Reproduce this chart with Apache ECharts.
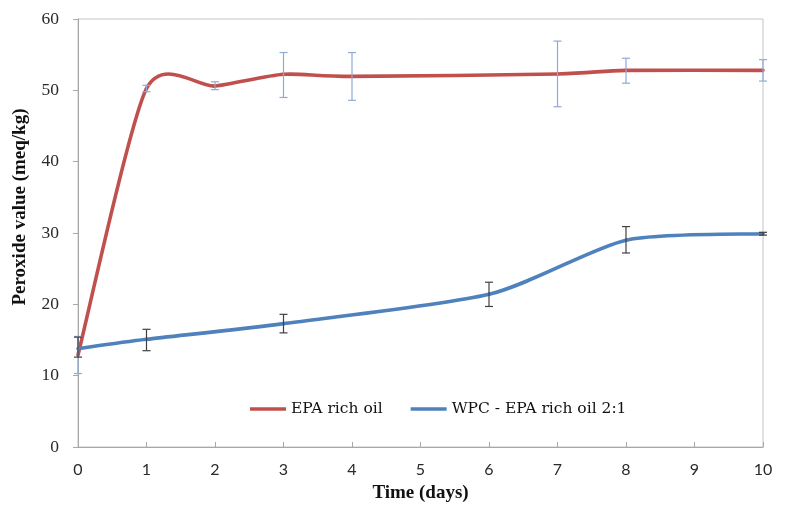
<!DOCTYPE html>
<html>
<head>
<meta charset="utf-8">
<script src="https://cdn.jsdelivr.net/npm/echarts@6/dist/echarts.min.js"></script>
<style>
html,body{margin:0;padding:0;background:#fff;}
#chart{width:786px;height:514px;}
</style>
</head>
<body>
<div id="chart"></div>
<script>
// ---- data ----
const epaName = 'EPA rich oil';
const epaDays = [0, 1, 2, 3, 4, 7, 8, 10];
const epaPV   = [12.9, 50.25, 50.6, 52.25, 51.95, 52.3, 52.8, 52.8];
const epaLow  = [10.3, 49.8, 50.1, 49.0, 48.6, 47.7, 51.0, 51.3];
const epaHigh = [15.5, 50.7, 51.2, 55.3, 55.3, 56.9, 54.5, 54.3];

const wpcName = 'WPC - EPA rich oil 2:1';
const wpcDays = [0, 1, 3, 6, 8, 10];
const wpcPV   = [13.8, 15.1, 17.3, 21.4, 29.0, 29.9];
const wpcLow  = [12.6, 13.5, 16.0, 19.7, 27.2, 29.7];
const wpcHigh = [15.4, 16.5, 18.6, 23.1, 30.9, 30.1];

const xTicks = [0, 1, 2, 3, 4, 5, 6, 7, 8, 9, 10];
const yTicks = [0, 10, 20, 30, 40, 50, 60];

const RED = '#c0504d', BLUE = '#4f81bd';
const RED_ERR = '#8faad6', BLUE_ERR = '#404040';

// smoothed line drawn segment by segment through the axes (Excel-like spline)
function smoothLine(xs, ys, color) {
  const k = 0.12;
  return function (params, api) {
    const i = params.dataIndex, n = xs.length;
    if (i >= n - 1) return null;
    const P = j => api.coord([xs[Math.max(0, Math.min(n - 1, j))], ys[Math.max(0, Math.min(n - 1, j))]]);
    const p0 = P(i - 1), p1 = P(i), p2 = P(i + 1), p3 = P(i + 2);
    return {
      type: 'bezierCurve',
      shape: {
        x1: p1[0], y1: p1[1], x2: p2[0], y2: p2[1],
        cpx1: p1[0] + (p2[0] - p0[0]) * k, cpy1: p1[1] + (p2[1] - p0[1]) * k,
        cpx2: p2[0] - (p3[0] - p1[0]) * k, cpy2: p2[1] - (p3[1] - p1[1]) * k
      },
      style: { stroke: color, lineWidth: 3.6, fill: null, lineCap: 'round' }
    };
  };
}

function errorBars(color) {
  return function (params, api) {
    const x = api.value(0);
    const top = api.coord([x, api.value(2)]);
    const bot = api.coord([x, api.value(1)]);
    const w = 4;
    const st = { stroke: color, lineWidth: 1.2 };
    return {
      type: 'group',
      children: [
        { type: 'line', shape: { x1: top[0], y1: top[1], x2: bot[0], y2: bot[1] }, style: st },
        { type: 'line', shape: { x1: top[0] - w, y1: top[1], x2: top[0] + w, y2: top[1] }, style: st },
        { type: 'line', shape: { x1: bot[0] - w, y1: bot[1], x2: bot[0] + w, y2: bot[1] }, style: st }
      ]
    };
  };
}

const chart = echarts.init(document.getElementById('chart'));
chart.setOption({
  backgroundColor: '#fff',
  animation: false,
  grid: { left: 78, right: 23, top: 19, bottom: 67, show: true, borderColor: '#c4c4c4', borderWidth: 1 },
  legend: {
    left: 245, top: 396,
    itemWidth: 36, itemHeight: 3.5, itemGap: 28,
    textStyle: { fontFamily: 'DejaVu Serif', fontSize: 15.5, color: '#111' },
    data: [
      { name: epaName, icon: 'rect', itemStyle: { color: RED } },
      { name: wpcName, icon: 'rect', itemStyle: { color: BLUE } }
    ]
  },
  xAxis: {
    type: 'value', min: xTicks[0], max: xTicks[xTicks.length - 1], interval: 1,
    name: 'Time (days)', nameLocation: 'middle', nameGap: 37,
    nameTextStyle: { fontFamily: 'Liberation Serif', fontWeight: 'bold', fontSize: 19, color: '#111' },
    axisLine: { lineStyle: { color: '#a8a8a8', width: 1 } },
    axisTick: { inside: true, length: 5, lineStyle: { color: '#a8a8a8' } },
    axisLabel: { margin: 15, fontFamily: 'Lato', fontSize: 16, color: '#2a2a2a' },
    splitLine: { show: false }
  },
  yAxis: {
    type: 'value', min: yTicks[0], max: yTicks[yTicks.length - 1], interval: 10,
    name: 'Peroxide value (meq/kg)', nameLocation: 'middle', nameGap: 48,
    nameTextStyle: { fontFamily: 'Liberation Serif', fontWeight: 'bold', fontSize: 19, color: '#111', padding: [0, 0, 0, 52] },
    axisLine: { show: true, lineStyle: { color: '#a8a8a8', width: 1 } },
    axisTick: { show: true, inside: false, length: 5, lineStyle: { color: '#a8a8a8' } },
    axisLabel: { margin: 19, fontFamily: 'Liberation Serif', fontSize: 17.5, color: '#2a2a2a' },
    splitLine: { show: false }
  },
  series: [
    {
      name: epaName, type: 'custom', coordinateSystem: 'cartesian2d', z: 2,
      itemStyle: { color: RED },
      encode: { x: 0, y: 1 },
      data: epaDays.map((d, i) => [d, epaPV[i]]),
      renderItem: smoothLine(epaDays, epaPV, RED)
    },
    {
      name: wpcName, type: 'custom', coordinateSystem: 'cartesian2d', z: 3,
      itemStyle: { color: BLUE },
      encode: { x: 0, y: 1 },
      data: wpcDays.map((d, i) => [d, wpcPV[i]]),
      renderItem: smoothLine(wpcDays, wpcPV, BLUE)
    },
    {
      name: epaName + ' error', type: 'custom', coordinateSystem: 'cartesian2d', z: 4,
      encode: { x: 0, y: [1, 2] },
      data: epaDays.map((d, i) => [d, epaLow[i], epaHigh[i]]),
      renderItem: errorBars(RED_ERR)
    },
    {
      name: wpcName + ' error', type: 'custom', coordinateSystem: 'cartesian2d', z: 4,
      encode: { x: 0, y: [1, 2] },
      data: wpcDays.map((d, i) => [d, wpcLow[i], wpcHigh[i]]),
      renderItem: errorBars(BLUE_ERR)
    }
  ]
});
</script>
</body>
</html>
